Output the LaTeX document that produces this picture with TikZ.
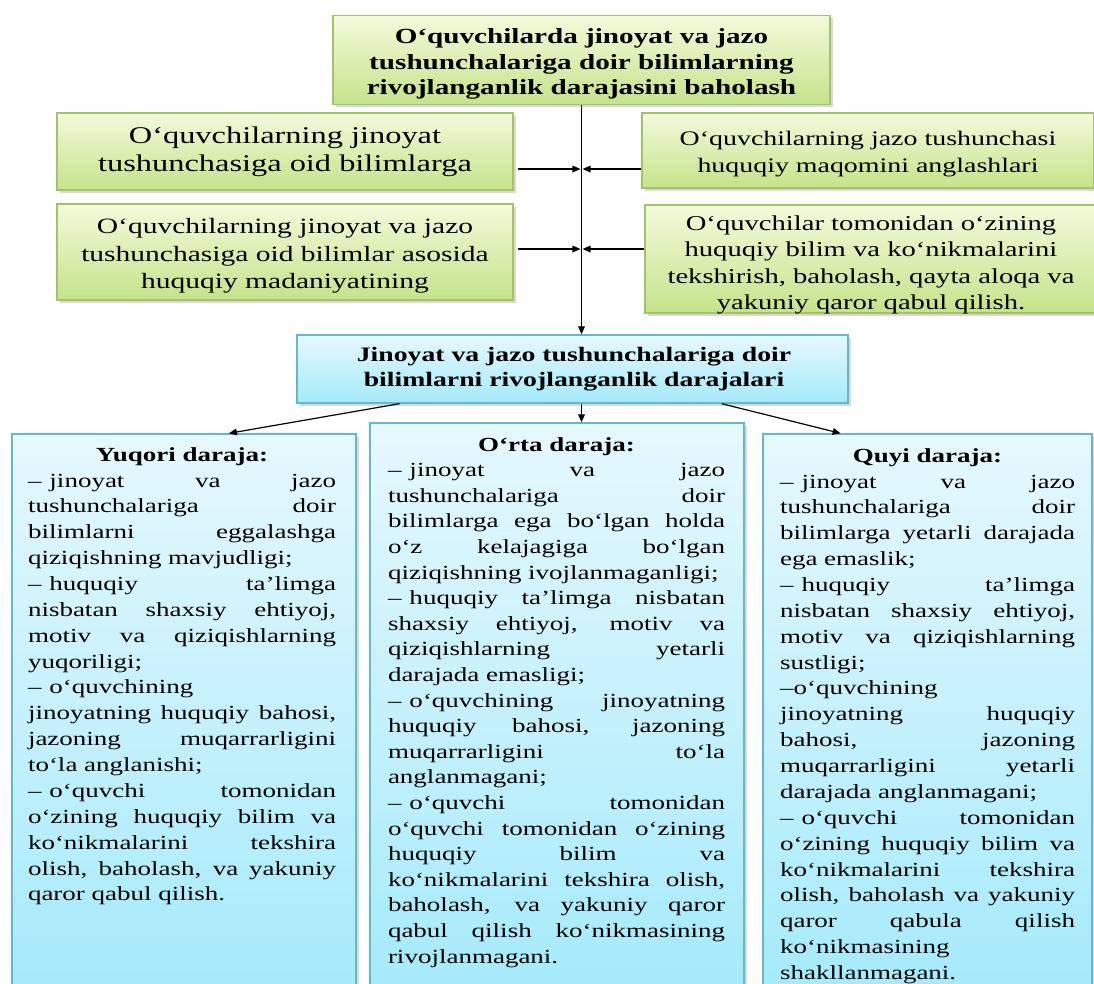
\documentclass[tikz,border=0pt]{standalone}
\usepackage{fontspec}
\setmainfont{Liberation Serif}[FakeStretch=1.35]
\usetikzlibrary{shadows,calc,arrows.meta}
\definecolor{gtop}{HTML}{F3FADB}
\definecolor{gbot}{HTML}{C5E38A}
\definecolor{gline}{HTML}{A3C465}
\definecolor{btop}{HTML}{E6F8FD}
\definecolor{bbot}{HTML}{A4EAFB}
\definecolor{bline}{HTML}{62B8D0}
\newcommand\JL[1]{{\spaceskip=0pt\xspaceskip=0pt\makebox[\hsize][s]{#1}}}
\newcommand\HD[1]{\makebox[\hsize]{\bfseries #1}}
\newcommand\DS{–\kern0.4em}
\hbadness=10000
\begin{document}
\begin{tikzpicture}[x=0.75pt,y=-0.75pt,
  gbox/.style={draw=gline,line width=1pt,top color=gtop,bottom color=gbot,
    drop shadow={opacity=0.3,shadow xshift=2pt,shadow yshift=-2pt},inner sep=0pt},
  bbox/.style={draw=bline,line width=1pt,top color=btop,bottom color=bbot,
    drop shadow={opacity=0.3,shadow xshift=2pt,shadow yshift=-2pt},inner sep=0pt},
  lbl/.style={inner sep=0pt,align=center},
  arr/.style={-{Triangle[length=6pt,width=5pt]},line width=0.9pt,black},
  body/.style={inner sep=0pt,align=left,anchor=north,font=\fontsize{15}{19.4}\selectfont}]
\useasboundingbox (0,0) rectangle (1094,983);
\clip (0,0) rectangle (1094,983);

% upper boxes
\node[gbox,minimum width=372.75pt,minimum height=66.75pt] (top) at (581.5,60) {};
\node[lbl,font=\bfseries\fontsize{16.2}{19.1}\selectfont] (toptx) at (581.5,64)
  {O‘quvchilarda jinoyat va jazo\\tushunchalariga doir bilimlarning\\rivojlanganlik darajasini baholash};
\node[gbox,minimum width=342pt,minimum height=57.75pt] (l1) at (285,151.5) {};
\node[lbl,font=\fontsize{18}{21}\selectfont] (l1tx) at (285,152)
  {O‘quvchilarning jinoyat\\tushunchasiga oid bilimlarga};
\node[gbox,minimum width=339pt,minimum height=56.25pt] (r1) at (868,150.5) {};
\node[lbl,font=\fontsize{15.5}{20}\selectfont] (r1tx) at (868,154)
  {O‘quvchilarning jazo tushunchasi\\huquqiy maqomini anglashlari};
\node[gbox,minimum width=342pt,minimum height=72pt] (l2) at (285,252) {};
\node[lbl,font=\fontsize{16.4}{20.6}\selectfont] (l2tx) at (285,256)
  {O‘quvchilarning jinoyat va jazo\\tushunchasiga oid bilimlar asosida\\huquqiy madaniyatining};
\node[gbox,minimum width=339pt,minimum height=81pt] (r2) at (871,259) {};
\node[lbl,font=\fontsize{15.9}{19.7}\selectfont] (r2tx) at (871,265)
  {O‘quvchilar tomonidan o‘zining\\huquqiy bilim va ko‘nikmalarini\\tekshirish, baholash, qayta aloqa va\\yakuniy qaror qabul qilish.};
\node[bbox,minimum width=413.25pt,minimum height=51pt] (mid) at (572.5,369) {};
\node[lbl,font=\bfseries\fontsize{15.4}{18.75}\selectfont] (midtx) at (574,369)
  {Jinoyat va jazo tushunchalariga doir\\bilimlarni rivojlanganlik darajalari};

% lower boxes
\node[bbox,minimum width=258pt,minimum height=424.5pt] (lb) at (184,717) {};
\node[bbox,minimum width=280.5pt,minimum height=432.75pt] (mb) at (557,711.5) {};
\node[bbox,minimum width=246.75pt,minimum height=424.5pt] (rb) at (927.5,717) {};

\node[body,text width=231pt] (lt) at (182,447) {%
\HD{Yuqori daraja:}\\
\JL{\DS jinoyat va jazo}\\
\JL{tushunchalariga doir}\\
\JL{bilimlarni eggalashga}\\
qiziqishning mavjudligi;\\
\JL{\DS huquqiy ta’limga}\\
\JL{nisbatan shaxsiy ehtiyoj,}\\
\JL{motiv va qiziqishlarning}\\
yuqoriligi;\\
\DS o‘quvchining\\
\JL{jinoyatning huquqiy bahosi,}\\
\JL{jazoning muqarrarligini}\\
to‘la anglanishi;\\
\JL{\DS o‘quvchi tomonidan}\\
\JL{o‘zining huquqiy bilim va}\\
\JL{ko‘nikmalarini tekshira}\\
\JL{olish, baholash, va yakuniy}\\
qaror qabul qilish.};

\node[body,text width=252.75pt,font=\fontsize{15}{19.2}\selectfont] (mt) at (556.5,437) {%
\HD{O‘rta daraja:}\\
\JL{\DS jinoyat va jazo}\\
\JL{tushunchalariga doir}\\
\JL{bilimlarga ega bo‘lgan holda}\\
\JL{o‘z kelajagiga bo‘lgan}\\
qiziqishning ivojlanmaganligi;\\
\JL{\DS huquqiy ta’limga nisbatan}\\
\JL{shaxsiy ehtiyoj, motiv va}\\
\JL{qiziqishlarning yetarli}\\
darajada emasligi;\\
\JL{\DS o‘quvchining jinoyatning}\\
\JL{huquqiy bahosi, jazoning}\\
\JL{muqarrarligini to‘la}\\
anglanmagani;\\
\JL{\DS o‘quvchi tomonidan}\\
\JL{o‘quvchi tomonidan o‘zining}\\
\JL{huquqiy bilim va}\\
\JL{ko‘nikmalarini tekshira olish,}\\
\JL{baholash, va yakuniy qaror}\\
\JL{qabul qilish ko‘nikmasining}\\
rivojlanmagani.};

\node[body,text width=221.25pt] (rt) at (927.5,448) {%
\HD{Quyi daraja:}\\
\JL{\DS jinoyat va jazo}\\
\JL{tushunchalariga doir}\\
\JL{bilimlarga yetarli darajada}\\
ega emaslik;\\
\JL{\DS huquqiy ta’limga}\\
\JL{nisbatan shaxsiy ehtiyoj,}\\
\JL{motiv va qiziqishlarning}\\
sustligi;\\
–o‘quvchining\\
\JL{jinoyatning huquqiy}\\
\JL{bahosi, jazoning}\\
\JL{muqarrarligini yetarli}\\
darajada anglanmagani;\\
\JL{\DS o‘quvchi tomonidan}\\
\JL{o‘zining huquqiy bilim va}\\
\JL{ko‘nikmalarini tekshira}\\
\JL{olish, baholash va yakuniy}\\
\JL{qaror qabula qilish}\\
ko‘nikmasining\\
shakllanmagani.};

% connectors
\coordinate (j1) at (581.5,169);
\coordinate (j2) at (581.5,249);
\draw[arr] (top.south) -- (top.south |- mid.north);
\draw[arr,shorten >=0.8pt] ([xshift=3pt]l1.east |- j1) -- (j1);
\draw[arr,shorten >=0.8pt] (r1.west |- j1) -- (j1);
\draw[arr,shorten >=0.8pt] ([xshift=3pt]l2.east |- j2) -- (j2);
\draw[arr,shorten >=0.8pt] (r2.west |- j2) -- (j2);
\draw[arr] ($(mid.south west)!0.187!(mid.south east)$) -- ($(lb.north west)!0.63!(lb.north east)$);
\draw[arr] (mid.south -| top.south) -- (top.south |- mb.north);
\draw[arr] ($(mid.south west)!0.77!(mid.south east)$) -- ($(rb.north west)!0.237!(rb.north east)$);
\end{tikzpicture}
\end{document}
